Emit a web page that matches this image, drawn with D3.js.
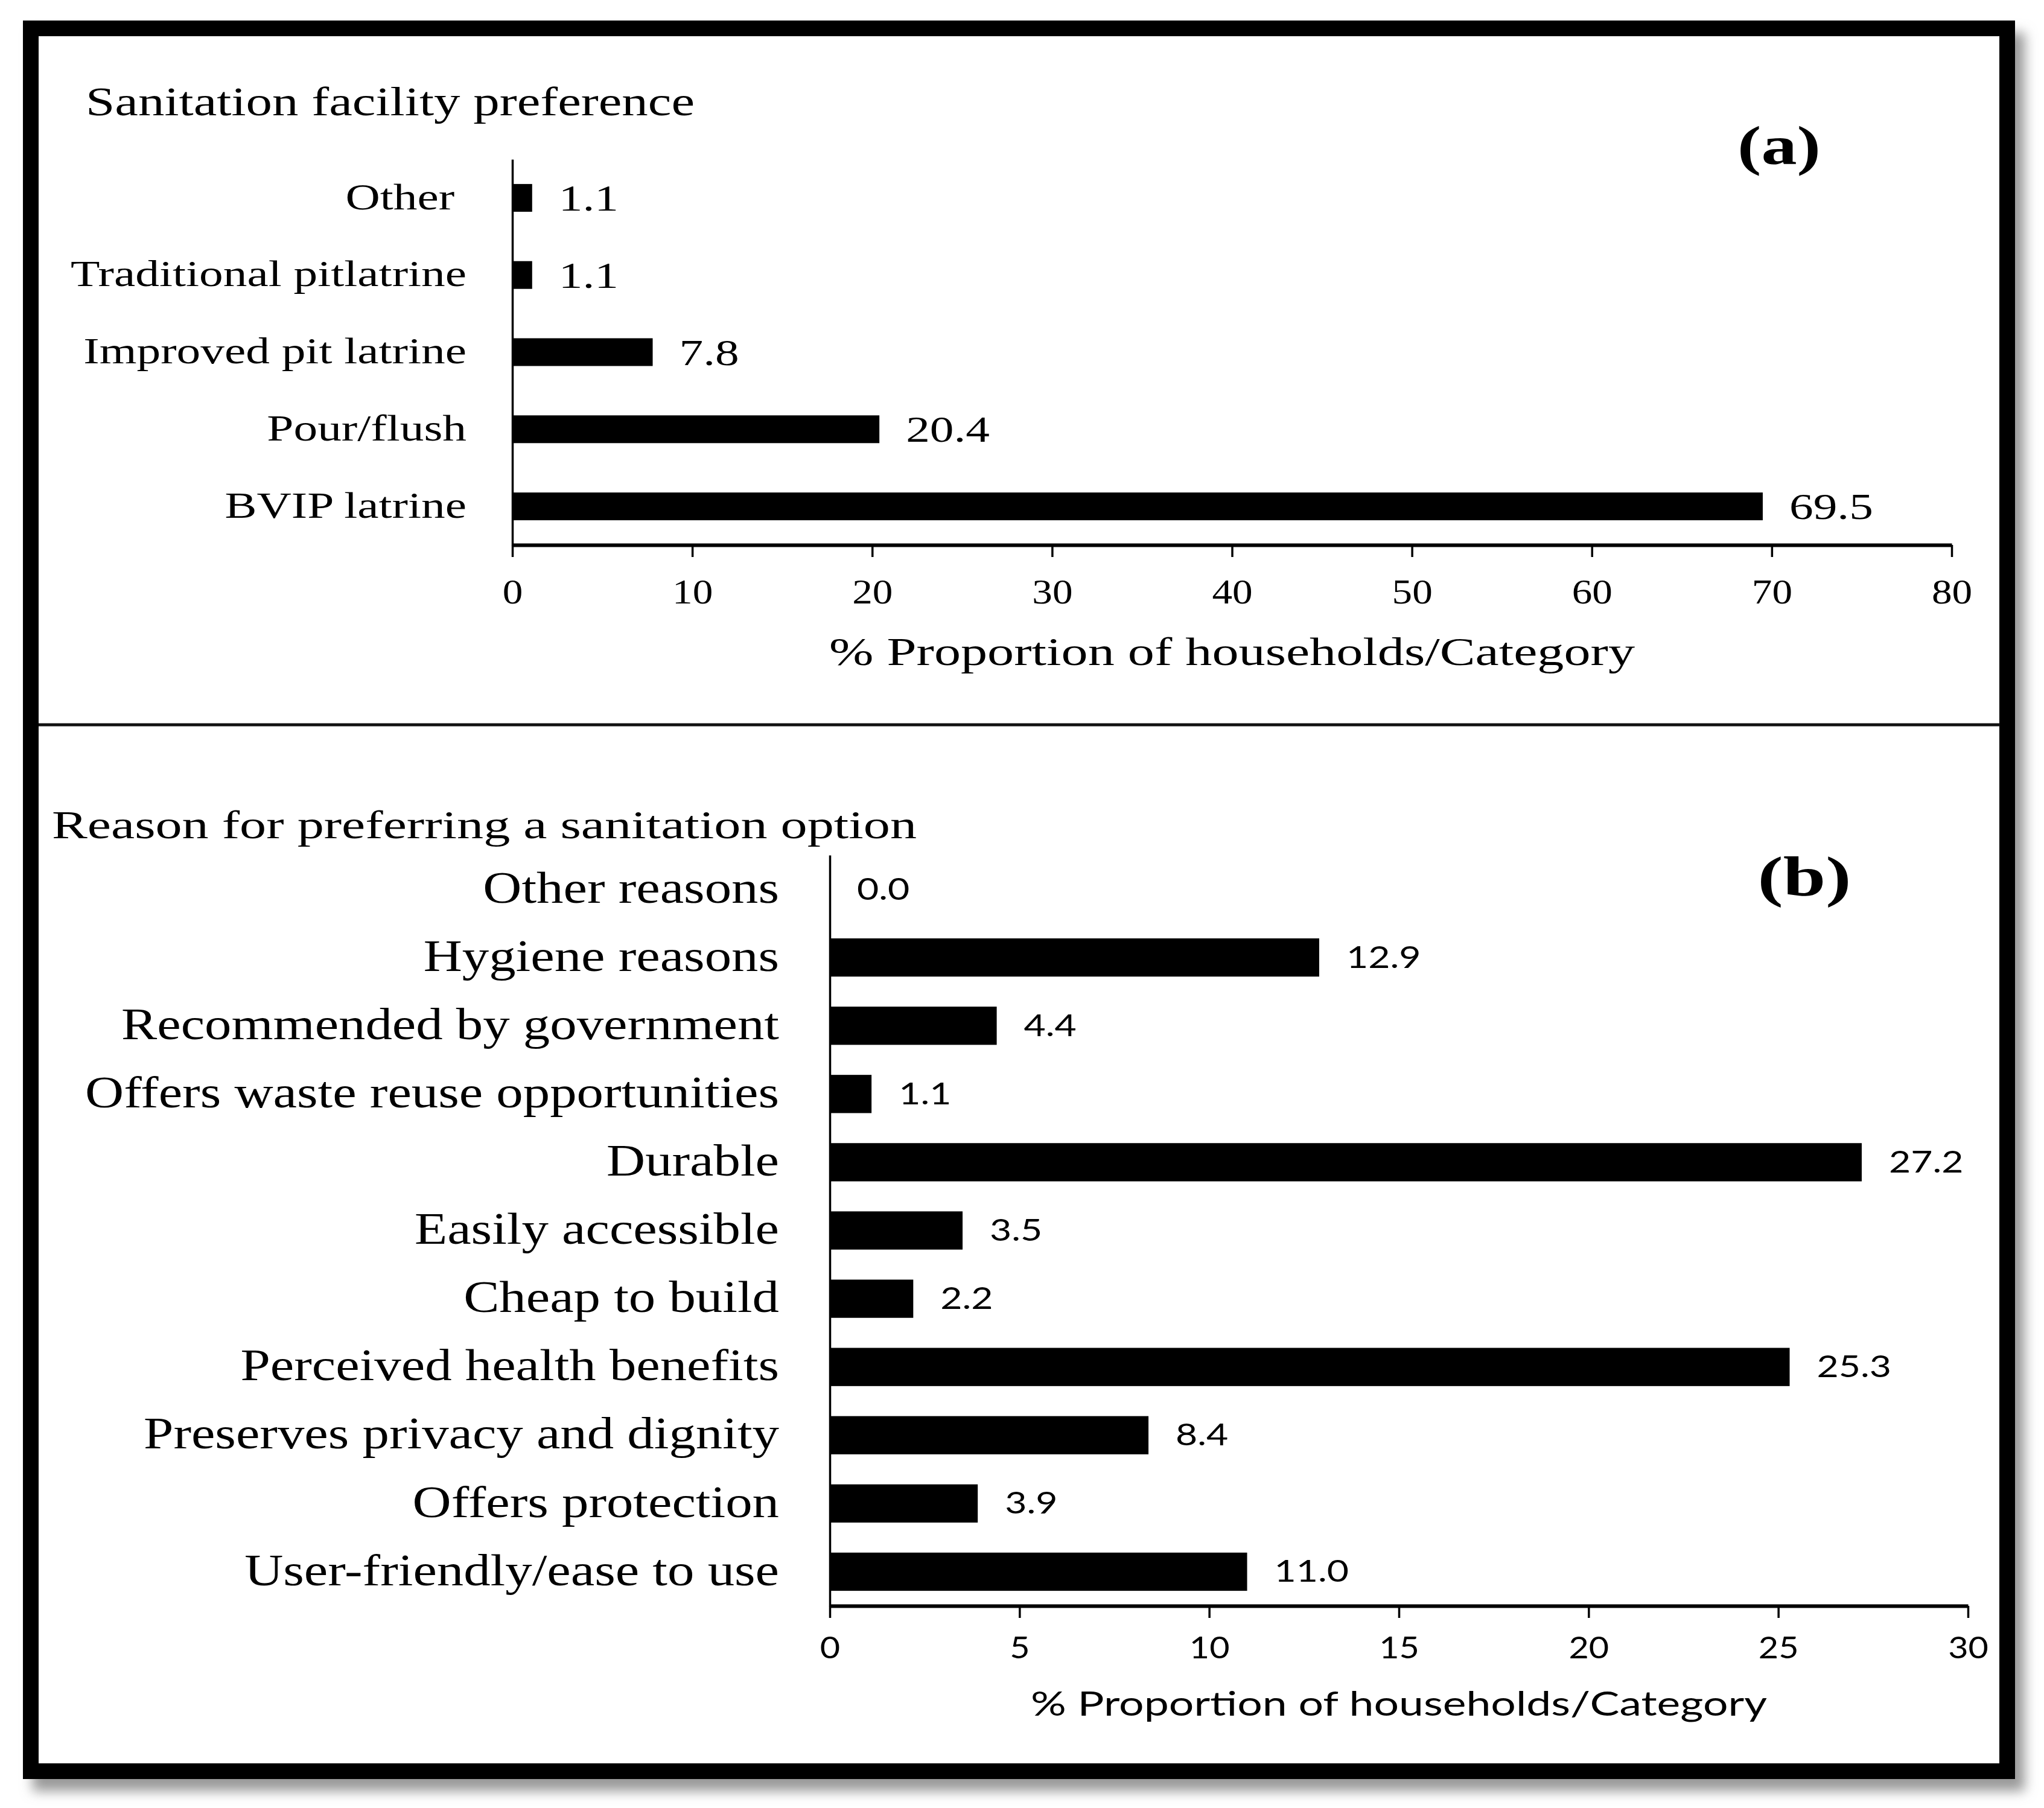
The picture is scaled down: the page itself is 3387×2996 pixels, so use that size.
<!DOCTYPE html>
<html>
<head>
<meta charset="utf-8">
<script src="https://cdn.jsdelivr.net/npm/d3@7"></script>
<style>
  body { margin: 0; background: #fff; }
  svg { display: block; }
  text { white-space: pre; }
  .serif { font-family: "Liberation Serif", "Times New Roman", serif; fill: #000; }
  .sans { font-family: Lato, "Open Sans", sans-serif; fill: #000; }
</style>
</head>
<body>
<svg id="chart" width="3387" height="2996"></svg>
<script>
// panel (a) data
var CATS_A = ["Other ", "Traditional pitlatrine", "Improved pit latrine", "Pour/flush", "BVIP latrine"];
var VALS_A = [1.1, 1.1, 7.8, 20.4, 69.5];
var TICKS_A = [0, 10, 20, 30, 40, 50, 60, 70, 80];

// panel (b) data
var CATS_B = ["Other reasons", "Hygiene reasons", "Recommended by government",
  "Offers waste reuse opportunities", "Durable", "Easily accessible", "Cheap to build",
  "Perceived health benefits", "Preserves privacy and dignity", "Offers protection",
  "User-friendly/ease to use"];
var VALS_B = [0.0, 12.9, 4.4, 1.1, 27.2, 3.5, 2.2, 25.3, 8.4, 3.9, 11.0];
var TICKS_B = [0, 5, 10, 15, 20, 25, 30];

document.addEventListener("DOMContentLoaded", function() {
  drawFrame();
  drawPanel({
    cats: CATS_A, vals: VALS_A, ticks: TICKS_A,
    x0: 849, x1: 3234, y0: 264, y1: 903, pad: 0.64,
    labelGap: 76, labelSize: 62, labelStretch: 1.28, labelClass: "serif",
    valueGap: 44, valueSize: 62, valueStretch: 1.28, valueClass: "serif",
    tickSize: 56, tickStretch: 1.2, tickClass: "serif", tickY: 97,
    domainWidth: 6, yAxisWidth: 3.5,
    title: { text: "% Proportion of households/Category", dy: 199, size: 66, width: 1335, cls: "serif" }
  });
  drawPanel({
    cats: CATS_B, vals: VALS_B, ticks: TICKS_B,
    x0: 1375, x1: 3261, y0: 1417, y1: 2661, pad: 0.44,
    labelGap: 84, labelSize: 74, labelStretch: 1.2, labelClass: "serif",
    valueGap: 45, valueSize: 50, valueStretch: 1.25, valueClass: "sans",
    tickSize: 50, tickStretch: 1.15, tickClass: "sans", tickY: 87,
    domainWidth: 6, yAxisWidth: 3.5,
    title: { text: "% Proportion of households/Category", dy: 182, size: 56, width: 1220, cls: "sans" }
  });
  drawTitles();
});

function stretch(sel, k) {
  sel.each(function() {
    var w = this.getComputedTextLength();
    this.setAttribute("textLength", w * k);
    this.setAttribute("lengthAdjust", "spacingAndGlyphs");
  });
}

function fitWidth(sel, width) {
  sel.attr("textLength", width).attr("lengthAdjust", "spacingAndGlyphs");
}

function drawFrame() {
  var svg = d3.select("#chart");
  var defs = svg.append("defs");
  var f = defs.append("filter").attr("id", "shadow")
    .attr("x", "-5%").attr("y", "-5%").attr("width", "115%").attr("height", "115%");
  f.append("feDropShadow")
    .attr("dx", 16).attr("dy", 20).attr("stdDeviation", 10)
    .attr("flood-color", "#777").attr("flood-opacity", 0.75);

  svg.append("rect")
    .attr("x", 51).attr("y", 47)
    .attr("width", 3275).attr("height", 2888)
    .attr("fill", "#fff")
    .attr("stroke", "#000")
    .attr("stroke-width", 26)
    .attr("filter", "url(#shadow)");

  svg.append("line")
    .attr("x1", 64).attr("x2", 3314)
    .attr("y1", 1201).attr("y2", 1201)
    .attr("stroke", "#111")
    .attr("stroke-width", 5);
}

function drawPanel(o) {
  var svg = d3.select("#chart");
  var g = svg.append("g");

  var x = d3.scaleLinear()
    .domain([o.ticks[0], o.ticks[o.ticks.length - 1]])
    .range([o.x0, o.x1]);

  var y = d3.scaleBand()
    .domain(o.cats)
    .range([o.y0, o.y1])
    .paddingInner(o.pad)
    .paddingOuter(o.pad / 2);

  // bars
  g.selectAll(".bar")
    .data(o.vals)
    .enter()
      .append("rect")
      .attr("class", "bar")
      .attr("x", x(0))
      .attr("y", (d, i) => y(o.cats[i]))
      .attr("width", (d) => x(d) - x(0))
      .attr("height", y.bandwidth())
      .attr("fill", "#000");

  // value labels
  var vals = g.selectAll(".val")
    .data(o.vals)
    .enter()
      .append("text")
      .attr("class", "val " + o.valueClass)
      .attr("x", (d) => x(d) + o.valueGap)
      .attr("y", (d, i) => y(o.cats[i]) + y.bandwidth() / 2)
      .attr("dy", "0.34em")
      .style("font-size", o.valueSize + "px")
      .text((d) => d3.format(".1f")(d));
  stretch(vals, o.valueStretch);

  // x axis
  var xAxis = g.append("g")
    .attr("transform", "translate(0," + o.y1 + ")")
    .call(d3.axisBottom(x).tickValues(o.ticks).tickSize(20).tickSizeOuter(0).tickFormat(d3.format("d")));
  xAxis.select(".domain").attr("stroke", "#000").attr("stroke-width", o.domainWidth);
  xAxis.selectAll(".tick line").attr("stroke", "#000").attr("stroke-width", 3.5);
  var tl = xAxis.selectAll(".tick text")
    .attr("class", o.tickClass)
    .attr("y", o.tickY)
    .attr("dy", null)
    .attr("fill", "#000")
    .style("font-size", o.tickSize + "px")
    .style("font-family", null);
  stretch(tl, o.tickStretch);

  // y axis with category labels
  var yAxis = g.append("g")
    .attr("transform", "translate(" + o.x0 + ",0)")
    .call(d3.axisLeft(y).tickSize(0).tickSizeOuter(0).tickPadding(o.labelGap));
  yAxis.select(".domain").attr("stroke", "#000").attr("stroke-width", o.yAxisWidth);
  var cl = yAxis.selectAll(".tick text")
    .attr("class", o.labelClass)
    .attr("fill", "#000")
    .attr("dy", "0.3em")
    .style("font-size", o.labelSize + "px")
    .style("font-family", null);
  stretch(cl, o.labelStretch);

  // axis title
  var t = g.append("text")
    .attr("class", o.title.cls)
    .attr("x", (o.x0 + o.x1) / 2)
    .attr("y", o.y1 + o.title.dy)
    .attr("text-anchor", "middle")
    .style("font-size", o.title.size + "px")
    .text(o.title.text);
  fitWidth(t, o.title.width);
}

function drawTitles() {
  var svg = d3.select("#chart");

  fitWidth(svg.append("text")
    .attr("class", "serif")
    .attr("x", 142).attr("y", 191)
    .style("font-size", "68px")
    .text("Sanitation facility preference"), 1009);

  fitWidth(svg.append("text")
    .attr("class", "serif")
    .attr("x", 2948).attr("y", 272)
    .attr("text-anchor", "middle")
    .style("font-size", "92px")
    .style("font-weight", "bold")
    .text("(a)"), 138);

  fitWidth(svg.append("text")
    .attr("class", "serif")
    .attr("x", 86).attr("y", 1389)
    .style("font-size", "65px")
    .text("Reason for preferring a sanitation option"), 1433);

  fitWidth(svg.append("text")
    .attr("class", "serif")
    .attr("x", 2990).attr("y", 1484)
    .attr("text-anchor", "middle")
    .style("font-size", "94px")
    .style("font-weight", "bold")
    .text("(b)"), 155);
}
</script>
</body>
</html>
